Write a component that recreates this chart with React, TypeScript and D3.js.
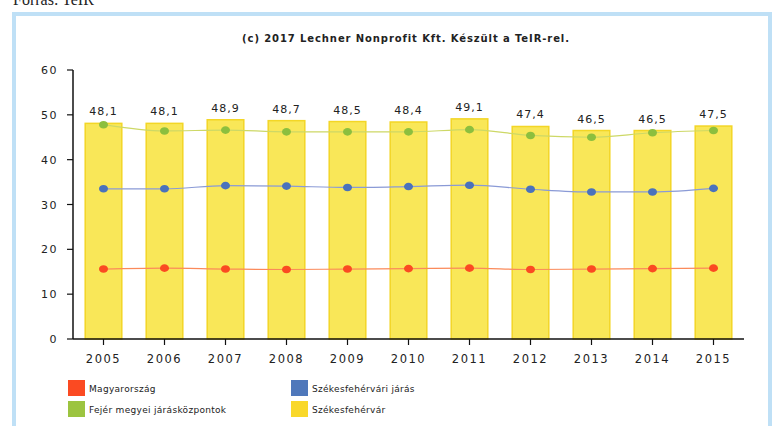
import React from "react";
import * as d3 from "d3";

const years = ["2005", "2006", "2007", "2008", "2009", "2010", "2011", "2012", "2013", "2014", "2015"];
const szekesfehervar = [48.1, 48.1, 48.9, 48.7, 48.5, 48.4, 49.1, 47.4, 46.5, 46.5, 47.5];
const fejerJaraskozpontok = [47.8, 46.4, 46.6, 46.2, 46.2, 46.2, 46.7, 45.4, 45.0, 46.0, 46.5];
const szekesfehervariJaras = [33.5, 33.5, 34.2, 34.1, 33.8, 34.0, 34.3, 33.4, 32.8, 32.8, 33.6];
const magyarorszag = [15.6, 15.8, 15.6, 15.5, 15.6, 15.7, 15.8, 15.5, 15.6, 15.7, 15.8];
const yTicks = [0, 10, 20, 30, 40, 50, 60];
const title = "(c) 2017 Lechner Nonprofit Kft. Készült a TeIR-rel.";
const source = "Forrás: TeIR";

const lineSeries = [
  { name: "Magyarország", values: magyarorszag, dot: "#fb4a22", line: "#fb8a5a" },
  { name: "Székesfehérvári járás", values: szekesfehervariJaras, dot: "#4a72bc", line: "#8a9ad6" },
  { name: "Fejér megyei járásközpontok", values: fejerJaraskozpontok, dot: "#8cbf3e", line: "#cdd866" },
];

const legendItems = [
  { name: "Magyarország", color: "#fb4a22", col: 0, row: 0 },
  { name: "Fejér megyei járásközpontok", color: "#9cc440", col: 0, row: 1 },
  { name: "Székesfehérvári járás", color: "#4f78bb", col: 1, row: 0 },
  { name: "Székesfehérvár", color: "#f9d82a", col: 1, row: 1 },
];

const font = "'DejaVu Sans', Verdana, sans-serif";

export default function App() {
  const W = 773;
  const H = 426;
  const x = d3.scaleBand<string>().domain(years).range([73, 744]).paddingInner(0.4).paddingOuter(0.2);
  const y = d3.scaleLinear().domain([0, 60]).range([339, 70]);
  const xb = d3.scaleBand<string>().domain(years).range([73, 744]);
  const tickX = (yr: string) => (xb(yr) as number) + xb.bandwidth() / 2;

  const lineGen = (vals: number[]) =>
    d3
      .line<number>()
      .x((_, i) => tickX(years[i]))
      .y((v) => y(v))
      .curve(d3.curveMonotoneX)(vals) as string;

  return (
    <svg width={W} height={H} style={{ position: "absolute", left: 0, top: 0, background: "#fff" }}>
      <rect x={0} y={0} width={W} height={H} fill="#fff" />
      <text x={13} y={5} fontFamily="'Liberation Serif', 'Times New Roman', serif" fontSize={16} fill="#222">
        {source}
      </text>
      <rect x={14} y={14} width={756} height={430} fill="#fff" stroke="#bfe0f6" strokeWidth={4} />
      <text x={406} y={42} textAnchor="middle" fontFamily={font} fontSize={10} fontWeight="bold" fill="#222" letterSpacing={0.9}>
        {title}
      </text>

      {years.map((yr, i) => (
        <rect
          key={"b" + yr}
          x={x(yr)}
          y={y(szekesfehervar[i])}
          width={x.bandwidth()}
          height={y(0) - y(szekesfehervar[i])}
          fill="#f9e758"
          stroke="#f3d626"
          strokeWidth={1.5}
        />
      ))}
      {years.map((yr, i) => (
        <text
          key={"l" + yr}
          x={tickX(yr)}
          y={y(szekesfehervar[i]) - 8}
          textAnchor="middle"
          fontFamily={font}
          fontSize={11}
          letterSpacing={1}
          fill="#222"
        >
          {String(szekesfehervar[i]).replace(".", ",")}
        </text>
      ))}

      {lineSeries.map((s) => (
        <g key={s.name}>
          <path d={lineGen(s.values)} fill="none" stroke={s.line} strokeWidth={1.2} />
          {s.values.map((v, i) => (
            <ellipse key={i} cx={tickX(years[i])} cy={y(v)} rx={4.5} ry={3.8} fill={s.dot} />
          ))}
        </g>
      ))}

      <line x1={73} x2={73} y1={70} y2={339} stroke="#111" strokeWidth={1.5} />
      {yTicks.map((t) => (
        <g key={"yt" + t}>
          <line x1={67} x2={73} y1={y(t)} y2={y(t)} stroke="#111" strokeWidth={1.2} />
          <text x={58} y={y(t) + 4} textAnchor="end" fontFamily={font} fontSize={11} letterSpacing={1.5} fill="#222">
            {t}
          </text>
        </g>
      ))}
      <line x1={73} x2={744} y1={339} y2={339} stroke="#111" strokeWidth={1.5} />
      {years.map((yr) => (
        <g key={"xt" + yr}>
          <line x1={tickX(yr)} x2={tickX(yr)} y1={339} y2={345} stroke="#111" strokeWidth={1.2} />
          <text x={tickX(yr)} y={363} textAnchor="middle" fontFamily={font} fontSize={11.5} letterSpacing={1.5} fill="#222">
            {yr}
          </text>
        </g>
      ))}

      {legendItems.map((it) => {
        const lx = it.col === 0 ? 68 : 291;
        const ly = it.row === 0 ? 380 : 401;
        return (
          <g key={it.name}>
            <rect x={lx} y={ly} width={17} height={16} fill={it.color} />
            <text x={lx + 21} y={ly + 12} fontFamily={font} fontSize={9} letterSpacing={0.3} fill="#222">
              {it.name}
            </text>
          </g>
        );
      })}
    </svg>
  );
}
